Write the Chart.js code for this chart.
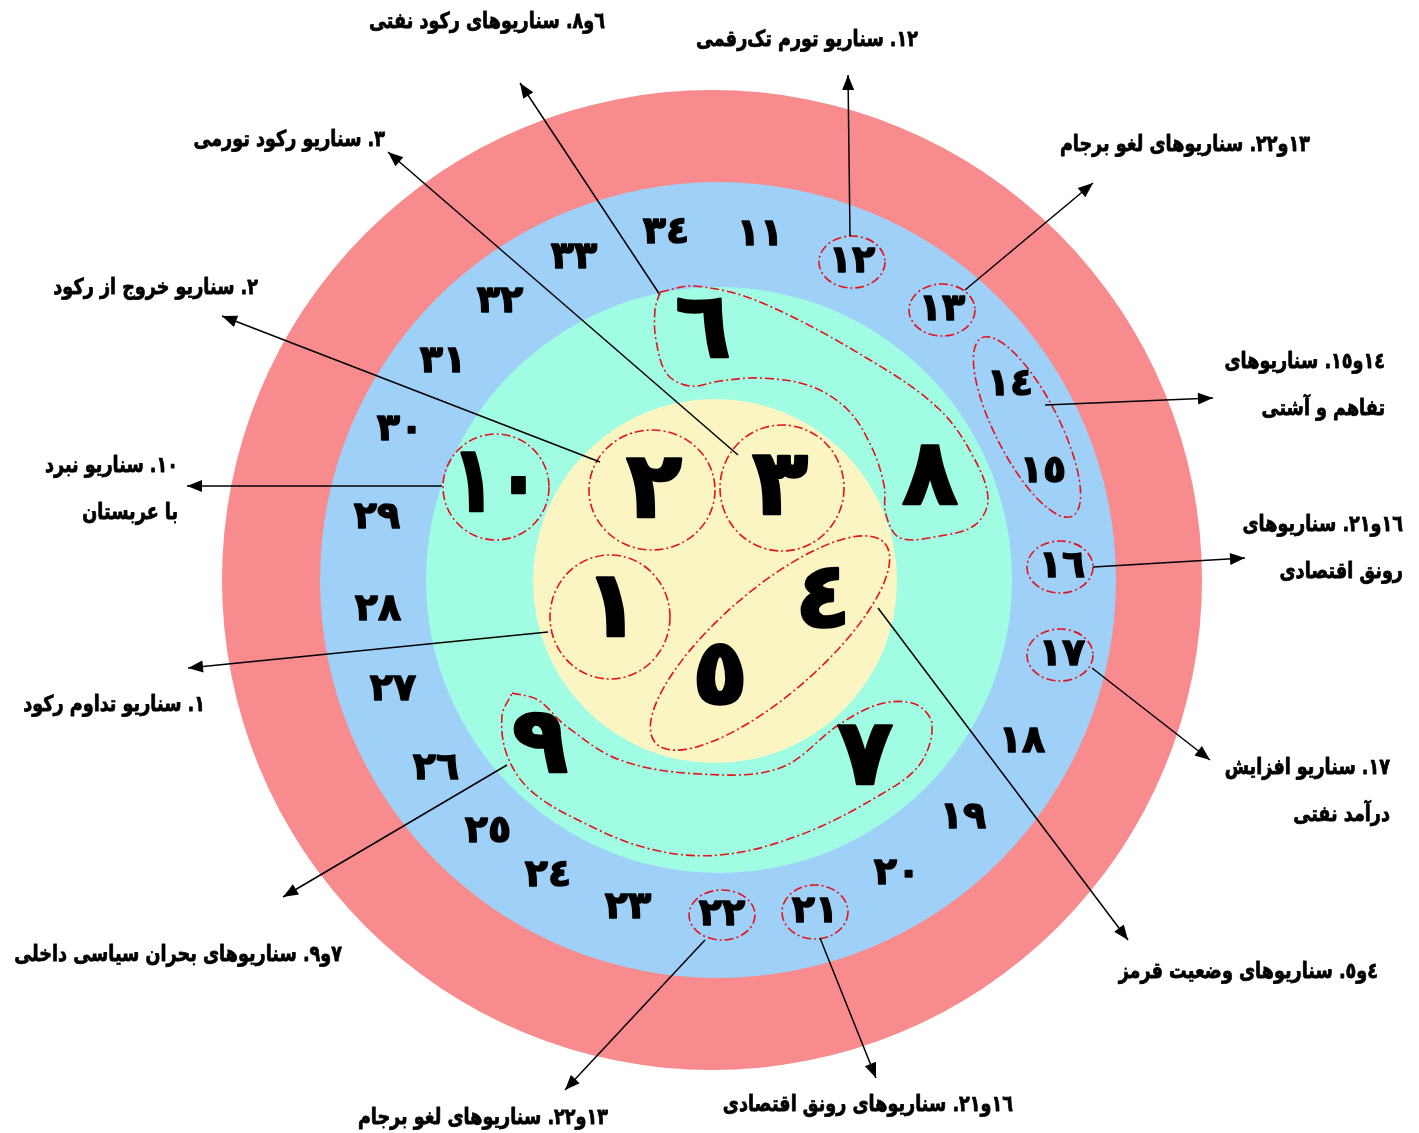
<!DOCTYPE html>
<html>
<head>
<meta charset="utf-8">
<script src="https://cdn.jsdelivr.net/npm/chart.js@4"></script>
<style>
  html, body { margin: 0; padding: 0; background: #fff; }
  #wrap { width: 1419px; height: 1133px; }
</style>
</head>
<body>
<div id="wrap"><canvas id="myChart" width="1419" height="1133"></canvas></div>
<script>
//  Rings, outermost first
const ringCx = [712, 718, 719, 715];
const ringCy = [580, 580, 580, 581];
const ringR = [490, 398, 293, 182];
const ringColors = ['#f78b8e', '#9fd0f8', '#a0fde3', '#fbf5c3'];

//  Small scenario numbers in the blue ring
const smallNums = ['١١','١٢','١٣','١٤','١٥','١٦','١٧','١٨','١٩','٢٠','٢١','٢٢','٢٣','٢٤','٢٥','٢٦','٢٧','٢٨','٢٩','٣٠','٣١','٣٢','٣٣','٣٤'];
const smallX = [760, 852, 942, 1010, 1043, 1062, 1062, 1022, 963, 897, 815, 722, 628, 548, 488, 436, 393, 378, 377, 400, 443, 500, 574, 666];
const smallY = [235, 262, 310, 385, 472, 567, 655, 742, 818, 874, 912, 915, 908, 876, 832, 769, 690, 610, 518, 430, 362, 302, 258, 233];

//  Large scenario numbers
const bigNums = ['١','٢','٣','٤','٥','٦','٧','٨','٩','١٠'];
const bigX = [612, 654, 780, 823, 720, 703, 865, 930, 540, 496];
const bigY = [612, 493, 490, 603, 680, 333, 760, 480, 748, 487];

//  Dashed ovals (center, radii, rotation in degrees)
const ovalX = [852, 942, 1060, 1060, 815, 722, 496, 652, 782, 610, 770, 1027];
const ovalY = [262, 310, 567, 655, 912, 915, 487, 490, 488, 617, 643, 427];
const ovalRx = [33, 33, 33, 33, 33, 33, 53, 63, 62, 60, 152, 100];
const ovalRy = [26, 26, 26, 26, 27, 25, 53, 60, 63, 62, 52, 32];
const ovalAngle = [0, 0, 0, 0, 0, 0, 0, 0, 0, 0, -41, 63];

//  Dashed boomerang outlines
const shape68 = [[660,292],[695,286],[760,302],[870,360],[940,410],[975,460],[988,500],[975,525],[940,536],[900,538],[886,515],[884,485],[872,448],[848,410],[810,386],[760,378],[720,381],[690,386],[667,374],[656,340],[655,310],[660,292]];
const shape79 = [[512,693],[538,700],[566,726],[620,760],[700,774],[780,768],[840,724],[880,704],[915,704],[932,724],[920,764],[880,795],[800,835],[720,855],[650,849],[580,821],[530,790],[507,755],[502,716],[512,693]];

//  Arrows: from -> to (arrowhead at "to")
const arrowFrom = [[660,295],[850,236],[738,455],[600,462],[965,290],[1045,405],[442,486],[1093,567],[548,632],[1092,668],[507,765],[878,608],[705,940],[820,938]];
const arrowTo = [[520,83],[848,75],[388,152],[222,316],[1093,183],[1213,398],[187,486],[1245,558],[188,668],[1210,760],[283,897],[1128,940],[565,1090],[876,1078]];

//  Labels (right edge x, middle y)
const labelText = [
  ['٦و٨. سناریوهای رکود نفتی'],
  ['١٢. سناریو تورم تک‌رقمی'],
  ['٣. سناریو رکود تورمی'],
  ['١٣و٢٢. سناریوهای لغو برجام'],
  ['٢. سناریو خروج از رکود'],
  ['١٤و١٥. سناریوهای', 'تفاهم و آشتی'],
  ['١٠. سناریو نبرد', 'با عربستان'],
  ['١٦و٢١. سناریوهای', 'رونق اقتصادی'],
  ['١. سناریو تداوم رکود'],
  ['١٧. سناریو افزایش', 'درآمد نفتی'],
  ['٧و٩. سناریوهای بحران سیاسی داخلی'],
  ['٤و٥. سناریوهای وضعیت قرمز'],
  ['١٣و٢٢. سناریوهای لغو برجام'],
  ['١٦و٢١. سناریوهای رونق اقتصادی']
];
const labelX = [605, 918, 385, 1310, 258, 1385, 178, 1403, 205, 1390, 342, 1378, 608, 1013];
const labelY = [22, 40, 140, 145, 288, 362, 466, 525, 705, 768, 955, 972, 1118, 1105];

const FONT = '"DejaVu Sans", sans-serif';
const RED = '#e3121b';
const DASH = [9, 3, 2, 3];

function px(chart, x, y) {
    return [chart.scales.x.getPixelForValue(x), chart.scales.y.getPixelForValue(y)];
}

//  heavy text, squeezed sideways to match the narrow bold face of the original
function heavyText(ctx, t, x, y, squeeze, stroke) {
    ctx.save();
    ctx.translate(x, y);
    ctx.scale(squeeze, 1);
    ctx.lineWidth = stroke;
    ctx.lineJoin = 'round';
    ctx.strokeText(t, 0, 0);
    ctx.fillText(t, 0, 0);
    ctx.restore();
}

//  Draws the filled rings and the dashed ovals under the datasets
const backdrop = {
    id: 'backdrop',
    beforeDatasetsDraw(chart) {
        const ctx = chart.ctx;
        const sx = chart.scales.x;
        ctx.save();
        for (let i = 0; i < ringR.length; i++) {
            const [cx, cy] = px(chart, ringCx[i], ringCy[i]);
            const r = sx.getPixelForValue(ringCx[i] + ringR[i]) - cx;
            ctx.beginPath();
            ctx.arc(cx, cy, r, 0, Math.PI * 2);
            ctx.fillStyle = ringColors[i];
            ctx.fill();
        }
        ctx.strokeStyle = RED;
        ctx.lineWidth = 1.6;
        ctx.setLineDash(DASH);
        for (let i = 0; i < ovalX.length; i++) {
            const [cx, cy] = px(chart, ovalX[i], ovalY[i]);
            const rx = sx.getPixelForValue(ovalX[i] + ovalRx[i]) - cx;
            const ry = sx.getPixelForValue(ovalX[i] + ovalRy[i]) - cx;
            ctx.beginPath();
            ctx.ellipse(cx, cy, rx, ry, ovalAngle[i] * Math.PI / 180, 0, Math.PI * 2);
            ctx.stroke();
        }
        ctx.restore();
    }
};

//  Arrowheads, numbers and labels on top
const overlay = {
    id: 'overlay',
    afterDatasetsDraw(chart) {
        const ctx = chart.ctx;
        ctx.save();
        chart.data.datasets.forEach((ds, i) => {
            if (!ds.isArrow) return;
            const pts = chart.getDatasetMeta(i).data;
            const a = pts[0], b = pts[1];
            const ang = Math.atan2(b.y - a.y, b.x - a.x);
            const L = 15, W = 6;
            ctx.beginPath();
            ctx.moveTo(b.x, b.y);
            ctx.lineTo(b.x - L * Math.cos(ang) + W * Math.sin(ang), b.y - L * Math.sin(ang) - W * Math.cos(ang));
            ctx.lineTo(b.x - L * Math.cos(ang) - W * Math.sin(ang), b.y - L * Math.sin(ang) + W * Math.cos(ang));
            ctx.closePath();
            ctx.fillStyle = '#000';
            ctx.fill();
        });

        ctx.fillStyle = '#000';
        ctx.strokeStyle = '#000';
        ctx.textAlign = 'center';
        ctx.textBaseline = 'middle';
        ctx.font = 'bold 38px ' + FONT;
        smallNums.forEach((t, i) => {
            const [x, y] = px(chart, smallX[i], smallY[i]);
            heavyText(ctx, t, x, y, 1, 1.5);
        });
        ctx.font = 'bold 92px ' + FONT;
        bigNums.forEach((t, i) => {
            const [x, y] = px(chart, bigX[i], bigY[i]);
            heavyText(ctx, t, x, y, t.length > 1 ? 0.8 : 1, 2.5);
        });

        ctx.direction = 'rtl';
        ctx.textAlign = 'right';
        ctx.font = 'bold 22px ' + FONT;
        labelText.forEach((lines, i) => {
            lines.forEach((t, j) => {
                const [x, y] = px(chart, labelX[i], labelY[i] + j * 47);
                heavyText(ctx, t, x, y, 0.8, 0.8);
            });
        });
        ctx.restore();
    }
};

const datasets = [];
[shape68, shape79].forEach(s => {
    datasets.push({
        type: 'line',
        data: s.map(p => ({ x: p[0], y: p[1] })),
        borderColor: RED,
        borderWidth: 1.6,
        borderDash: DASH,
        tension: 0.35,
        pointRadius: 0,
        fill: false
    });
});
arrowFrom.forEach((f, i) => {
    datasets.push({
        type: 'line',
        isArrow: true,
        data: [{ x: f[0], y: f[1] }, { x: arrowTo[i][0], y: arrowTo[i][1] }],
        borderColor: '#000',
        borderWidth: 1.5,
        pointRadius: 0,
        tension: 0,
        fill: false
    });
});

new Chart(document.getElementById('myChart'), {
    type: 'scatter',
    data: { datasets: datasets },
    options: {
        responsive: false,
        animation: false,
        layout: { padding: 0 },
        scales: {
            x: { type: 'linear', min: 0, max: 1419, display: false },
            y: { type: 'linear', min: 0, max: 1133, reverse: true, display: false }
        },
        plugins: {
            legend: { display: false },
            tooltip: { enabled: false }
        }
    },
    plugins: [backdrop, overlay]
});
</script>
</body>
</html>
